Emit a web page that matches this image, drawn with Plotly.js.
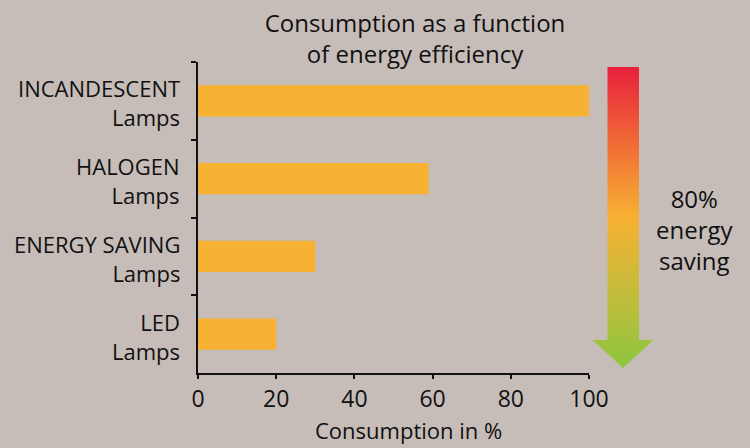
<!DOCTYPE html>
<html><head><meta charset="utf-8">
<script src="https://cdn.plot.ly/plotly-3.0.1.min.js"></script>
<style>html,body{margin:0;padding:0;background:#C6BDB8;}</style>
</head><body>
<div id="chart" style="width:750px;height:448px"></div>
<script>
// ---- data ----
const lampTypes = ['INCANDESCENT', 'HALOGEN', 'ENERGY SAVING', 'LED'];
const lampSuffix = 'Lamps';
const consumption = [100, 59, 30, 20];
const xTickValues = [0, 20, 40, 60, 80, 100];
const titleText = 'Consumption as a function<br>of energy efficiency';
const xAxisTitle = 'Consumption in %';
const savingLabel = ['80%', 'energy', 'saving'];

// ---- styling / layout ----
const ink = '#111111';
const bg = '#C6BDB8';
const fontFamily = '"Open Sans", "Noto Sans", sans-serif';
const W = 750, H = 448;
const mL = 198, mR = 0, mT = 62, mB = 75;
const plotW = W - mL - mR;
const plotH = H - mT - mB;
const mainDomainEnd = 391 / plotW;

const barTrace = {
  type: 'bar', orientation: 'h',
  y: lampTypes, x: consumption,
  width: 0.4,
  marker: {color: '#F7B133', line: {width: 0}},
  hoverinfo: 'none', xaxis: 'x', yaxis: 'y'
};

// decorative gradient arrow (in an auxiliary pixel-like axis pair)
const arrowX = [607.5, 639, 639, 653.5, 623, 592.5, 607.5, 607.5];
const arrowY = [67, 67, 340, 340, 368, 340, 340, 67];
const arrowTrace = {
  type: 'scatter', mode: 'none', x: arrowX, y: arrowY,
  fill: 'toself',
  fillgradient: {
    type: 'vertical', start: 67, stop: 368,
    colorscale: [[0, '#E8203C'], [0.25, '#F06A36'], [0.5, '#F7B133'], [0.75, '#C4BC3B'], [1, '#8DC63F']]
  },
  hoverinfo: 'none', xaxis: 'x2', yaxis: 'y2', showlegend: false
};

const annotations = [];
lampTypes.forEach(function (name, i) {
  annotations.push({xref: 'paper', x: 0, xanchor: 'right', xshift: -16,
    yref: 'y', y: i, yanchor: 'middle', yshift: -2, align: 'right',
    text: name + '<br>' + lampSuffix, showarrow: false,
    font: {family: fontFamily, size: 22, color: ink}});
});
annotations.push({xref: 'paper', x: (408 - mL) / plotW, xanchor: 'center',
  yref: 'paper', y: (mT + plotH - 447) / plotH, yanchor: 'bottom', text: xAxisTitle, showarrow: false,
  font: {family: fontFamily, size: 22, color: ink}});
annotations.push({xref: 'x2', x: 695, xanchor: 'center', yref: 'y2', y: 229, yanchor: 'middle',
  text: savingLabel.join('<br>'), showarrow: false, align: 'center',
  font: {family: fontFamily, size: 24, color: ink}});

const layout = {
  width: W, height: H,
  margin: {l: mL, r: mR, t: mT, b: mB, pad: 0},
  paper_bgcolor: bg, plot_bgcolor: bg,
  font: {family: fontFamily, color: ink},
  showlegend: false,
  title: {text: titleText, xref: 'container', x: 415 / W, xanchor: 'center',
    yref: 'container', y: 1 - 32 / H, yanchor: 'top',
    font: {family: fontFamily, size: 24, color: ink}},
  xaxis: {domain: [0, mainDomainEnd], range: [0, 100], tickvals: xTickValues,
    ticks: 'outside', ticklen: 4, tickwidth: 2, tickcolor: ink,
    showline: true, linewidth: 2, linecolor: ink, showgrid: false, zeroline: false,
    tickfont: {family: fontFamily, size: 23, color: ink}, anchor: 'y', fixedrange: true},
  yaxis: {type: 'category', categoryorder: 'array', categoryarray: lampTypes,
    range: [3.5, -0.5], ticks: 'outside', tickson: 'boundaries', ticklen: 5, tickwidth: 2,
    tickcolor: ink, showline: true, linewidth: 2, linecolor: ink, showticklabels: false,
    showgrid: false, zeroline: false, anchor: 'x', fixedrange: true},
  xaxis2: {domain: [392 / plotW, 1], range: [590, 750], visible: false, anchor: 'y2', fixedrange: true},
  yaxis2: {domain: [0, 1], range: [373, 62], visible: false, anchor: 'x2', fixedrange: true},
  annotations: annotations
};

Plotly.newPlot('chart', [barTrace, arrowTrace], layout, {displayModeBar: false, staticPlot: true});
</script>
</body></html>
